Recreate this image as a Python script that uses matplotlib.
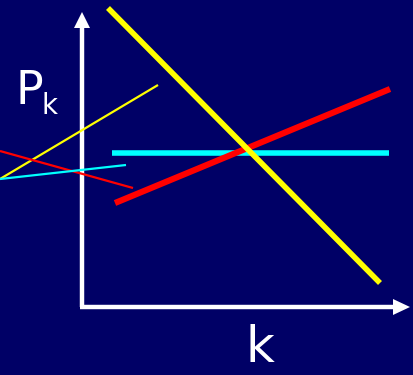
import matplotlib
matplotlib.use("Agg")
import matplotlib.pyplot as plt

# Line segments (start x, start y, end x, end y) in figure pixel space
bg = "#000066"
thick_yellow = [(108, 8), (380, 283)]
thick_red = [(115, 203), (390, 89)]
thick_cyan = [(112, 153), (389, 153)]
thin_yellow = [(0, 179), (158, 85)]
thin_red = [(0, 151), (133, 188)]
thin_cyan = [(0, 179), (126, 165)]

fig = plt.figure(figsize=(4.13, 3.75), dpi=100, facecolor=bg)
ax = fig.add_axes([0, 0, 1, 1])
ax.set_facecolor(bg)
ax.set_xlim(0, 413)
ax.set_ylim(375, 0)
ax.axis("off")

# axes with arrow heads
ax.plot([82, 82], [307, 25], color="white", lw=3.2, solid_capstyle="butt")
ax.plot([80, 395], [307, 307], color="white", lw=3.2, solid_capstyle="butt")
ax.fill([74, 90, 82], [28, 28, 12], color="white", lw=0)
ax.fill([393, 393, 410], [299, 315, 307], color="white", lw=0)

for seg, c, w in [(thin_yellow, "#ffff00", 1.6), (thin_red, "#ff0000", 1.6),
                  (thin_cyan, "#00ffff", 1.6)]:
    xs, ys = zip(*seg)
    ax.plot(xs, ys, color=c, lw=w, solid_capstyle="butt")

for seg, c, w in [(thick_cyan, "#00ffff", 4.0), (thick_red, "#ff0000", 4.4),
                  (thick_yellow, "#ffff00", 4.0)]:
    xs, ys = zip(*seg)
    ax.plot(xs, ys, color=c, lw=w, solid_capstyle="butt")

ax.text(16, 104, "P", color="white", fontsize=33, ha="left", va="baseline")
ax.text(42, 114, "k", color="white", fontsize=20, ha="left", va="baseline")
ax.text(260, 362, "k", color="white", fontsize=36, ha="center", va="baseline")

fig.savefig("out.png", dpi=100, facecolor=bg)
